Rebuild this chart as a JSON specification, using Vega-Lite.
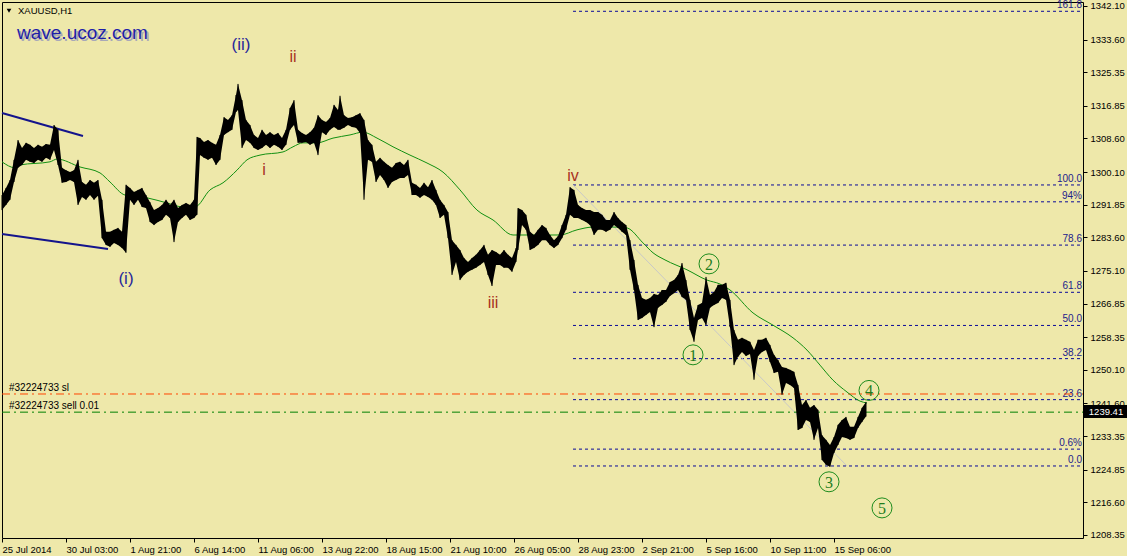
{
"$schema": "https://vega.github.io/schema/vega-lite/v6.json",
"width": 1081, "height": 536,
"autosize": {"type": "none"},
"padding": {"left": 2, "top": 2, "right": 44, "bottom": 18},
"background": "#EEE8AA",
"config": {"view": {"stroke": "#000000", "strokeWidth": 1}, "font": "Liberation Sans", "axis": {"labelOverlap": false, "labelSeparation": 0}},
"datasets": {
"px": [
{"x":0,"y":1294.3,"y2":1290.5},{"x":4,"y":1296.1,"y2":1291.8},{"x":8,"y":1298.1,"y2":1293.1},{"x":12,"y":1303.2,"y2":1297.6},{"x":16,"y":1308.2,"y2":1301.2},{"x":20,"y":1306.2,"y2":1301.9},{"x":24,"y":1307.5,"y2":1303.2},{"x":28,"y":1307.0,"y2":1302.7},{"x":32,"y":1306.2,"y2":1302.4},{"x":36,"y":1307.0,"y2":1303.2},{"x":40,"y":1306.5,"y2":1302.7},{"x":44,"y":1307.2,"y2":1303.7},{"x":48,"y":1307.0,"y2":1303.2},{"x":52,"y":1312.0,"y2":1305.7},{"x":56,"y":1310.8,"y2":1301.9},{"x":60,"y":1301.2,"y2":1297.4},{"x":64,"y":1300.6,"y2":1297.6},{"x":68,"y":1300.1,"y2":1298.1},{"x":72,"y":1300.6,"y2":1297.6},{"x":76,"y":1303.2,"y2":1291.8},{"x":80,"y":1297.6,"y2":1293.8},{"x":84,"y":1296.9,"y2":1293.1},{"x":88,"y":1298.1,"y2":1294.3},{"x":92,"y":1297.4,"y2":1293.1},{"x":96,"y":1298.1,"y2":1294.1},{"x":100,"y":1293.1,"y2":1283.4},{"x":104,"y":1285.0,"y2":1281.7},{"x":108,"y":1285.0,"y2":1281.2},{"x":112,"y":1285.5,"y2":1282.2},{"x":116,"y":1286.0,"y2":1281.7},{"x":120,"y":1285.0,"y2":1280.9},{"x":124,"y":1296.9,"y2":1279.7},{"x":128,"y":1296.1,"y2":1293.1},{"x":132,"y":1295.1,"y2":1291.8},{"x":136,"y":1295.6,"y2":1293.1},{"x":140,"y":1296.1,"y2":1291.3},{"x":144,"y":1294.3,"y2":1291.0},{"x":148,"y":1292.5,"y2":1287.5},{"x":152,"y":1290.5,"y2":1286.7},{"x":156,"y":1291.0,"y2":1287.5},{"x":160,"y":1291.8,"y2":1288.0},{"x":164,"y":1293.1,"y2":1289.3},{"x":168,"y":1291.8,"y2":1288.5},{"x":172,"y":1293.1,"y2":1282.4},{"x":176,"y":1291.0,"y2":1287.5},{"x":180,"y":1291.8,"y2":1288.5},{"x":184,"y":1292.3,"y2":1289.3},{"x":188,"y":1291.8,"y2":1288.0},{"x":192,"y":1293.1,"y2":1288.5},{"x":195,"y":1309.0,"y2":1289.3},{"x":198,"y":1308.7,"y2":1304.4},{"x":202,"y":1307.7,"y2":1303.7},{"x":206,"y":1308.2,"y2":1303.2},{"x":210,"y":1307.5,"y2":1303.7},{"x":214,"y":1307.0,"y2":1301.9},{"x":218,"y":1309.5,"y2":1303.2},{"x":222,"y":1314.0,"y2":1309.5},{"x":226,"y":1313.3,"y2":1310.2},{"x":230,"y":1314.5,"y2":1310.8},{"x":234,"y":1319.6,"y2":1315.3},{"x":236,"y":1322.4,"y2":1315.8},{"x":240,"y":1318.3,"y2":1306.2},{"x":244,"y":1313.3,"y2":1308.2},{"x":248,"y":1312.0,"y2":1307.5},{"x":252,"y":1309.5,"y2":1306.2},{"x":256,"y":1308.7,"y2":1305.7},{"x":260,"y":1310.8,"y2":1306.2},{"x":264,"y":1309.5,"y2":1307.0},{"x":268,"y":1310.2,"y2":1306.2},{"x":272,"y":1309.5,"y2":1307.0},{"x":276,"y":1310.0,"y2":1306.5},{"x":280,"y":1308.7,"y2":1305.7},{"x":284,"y":1310.8,"y2":1307.0},{"x":288,"y":1316.3,"y2":1310.8},{"x":292,"y":1318.3,"y2":1312.0},{"x":296,"y":1310.8,"y2":1307.5},{"x":300,"y":1310.0,"y2":1307.5},{"x":304,"y":1309.5,"y2":1307.7},{"x":308,"y":1310.2,"y2":1307.0},{"x":312,"y":1311.3,"y2":1307.5},{"x":316,"y":1314.5,"y2":1304.4},{"x":320,"y":1313.3,"y2":1310.2},{"x":324,"y":1312.8,"y2":1309.5},{"x":328,"y":1313.8,"y2":1310.8},{"x":332,"y":1317.1,"y2":1311.5},{"x":336,"y":1315.8,"y2":1310.8},{"x":338,"y":1319.4,"y2":1310.8},{"x":342,"y":1314.5,"y2":1311.3},{"x":346,"y":1313.8,"y2":1312.0},{"x":350,"y":1314.0,"y2":1311.5},{"x":354,"y":1314.5,"y2":1311.3},{"x":358,"y":1315.0,"y2":1310.0},{"x":362,"y":1313.3,"y2":1293.1},{"x":366,"y":1308.2,"y2":1303.2},{"x":370,"y":1307.0,"y2":1302.7},{"x":374,"y":1302.7,"y2":1297.6},{"x":378,"y":1303.7,"y2":1299.4},{"x":382,"y":1302.7,"y2":1298.1},{"x":386,"y":1301.9,"y2":1296.1},{"x":390,"y":1301.2,"y2":1297.6},{"x":394,"y":1302.4,"y2":1298.1},{"x":398,"y":1302.7,"y2":1298.6},{"x":402,"y":1301.9,"y2":1298.6},{"x":406,"y":1303.2,"y2":1299.4},{"x":410,"y":1297.4,"y2":1294.3},{"x":414,"y":1296.9,"y2":1294.3},{"x":418,"y":1296.1,"y2":1293.6},{"x":422,"y":1297.4,"y2":1294.3},{"x":426,"y":1296.3,"y2":1293.8},{"x":430,"y":1298.1,"y2":1293.1},{"x":434,"y":1295.6,"y2":1291.8},{"x":438,"y":1293.1,"y2":1288.5},{"x":442,"y":1291.8,"y2":1289.3},{"x":446,"y":1290.0,"y2":1283.4},{"x":450,"y":1282.9,"y2":1274.1},{"x":454,"y":1281.7,"y2":1277.4},{"x":458,"y":1280.4,"y2":1272.8},{"x":462,"y":1278.4,"y2":1274.1},{"x":466,"y":1277.4,"y2":1274.9},{"x":470,"y":1278.4,"y2":1275.4},{"x":474,"y":1279.2,"y2":1275.9},{"x":478,"y":1280.4,"y2":1276.6},{"x":482,"y":1281.7,"y2":1277.4},{"x":486,"y":1279.2,"y2":1274.1},{"x":490,"y":1280.4,"y2":1271.3},{"x":494,"y":1279.9,"y2":1276.6},{"x":498,"y":1279.2,"y2":1276.6},{"x":502,"y":1280.4,"y2":1275.9},{"x":506,"y":1279.2,"y2":1275.9},{"x":510,"y":1278.4,"y2":1274.9},{"x":514,"y":1280.9,"y2":1277.4},{"x":516,"y":1291.0,"y2":1280.4},{"x":520,"y":1290.5,"y2":1286.7},{"x":524,"y":1289.3,"y2":1285.5},{"x":528,"y":1285.0,"y2":1280.4},{"x":532,"y":1284.2,"y2":1280.9},{"x":536,"y":1285.5,"y2":1281.7},{"x":540,"y":1286.7,"y2":1282.9},{"x":544,"y":1286.0,"y2":1282.9},{"x":548,"y":1284.2,"y2":1281.7},{"x":552,"y":1282.9,"y2":1280.9},{"x":556,"y":1283.9,"y2":1281.7},{"x":560,"y":1286.7,"y2":1283.4},{"x":564,"y":1289.3,"y2":1285.5},{"x":568,"y":1296.3,"y2":1289.3},{"x":572,"y":1295.6,"y2":1288.5},{"x":576,"y":1291.8,"y2":1288.5},{"x":580,"y":1291.0,"y2":1288.0},{"x":584,"y":1290.5,"y2":1287.5},{"x":588,"y":1290.5,"y2":1286.7},{"x":592,"y":1290.0,"y2":1284.2},{"x":596,"y":1290.0,"y2":1285.5},{"x":600,"y":1289.3,"y2":1285.5},{"x":604,"y":1288.0,"y2":1285.0},{"x":608,"y":1288.0,"y2":1285.5},{"x":612,"y":1290.0,"y2":1286.7},{"x":616,"y":1288.5,"y2":1286.0},{"x":620,"y":1287.5,"y2":1285.0},{"x":624,"y":1286.7,"y2":1284.2},{"x":628,"y":1282.9,"y2":1275.4},{"x":632,"y":1277.9,"y2":1270.3},{"x":636,"y":1271.6,"y2":1262.7},{"x":640,"y":1268.3,"y2":1263.2},{"x":644,"y":1267.8,"y2":1264.0},{"x":648,"y":1268.3,"y2":1264.7},{"x":652,"y":1269.3,"y2":1260.9},{"x":656,"y":1269.0,"y2":1265.8},{"x":660,"y":1270.3,"y2":1266.5},{"x":664,"y":1270.3,"y2":1267.3},{"x":668,"y":1272.3,"y2":1268.8},{"x":672,"y":1272.8,"y2":1269.5},{"x":676,"y":1274.1,"y2":1270.3},{"x":680,"y":1277.1,"y2":1268.5},{"x":684,"y":1272.8,"y2":1267.8},{"x":688,"y":1267.8,"y2":1260.2},{"x":692,"y":1263.2,"y2":1257.2},{"x":696,"y":1266.5,"y2":1262.7},{"x":700,"y":1267.0,"y2":1263.2},{"x":704,"y":1273.6,"y2":1261.4},{"x":708,"y":1269.0,"y2":1265.8},{"x":712,"y":1269.8,"y2":1266.5},{"x":716,"y":1271.6,"y2":1267.0},{"x":720,"y":1271.6,"y2":1268.3},{"x":724,"y":1272.1,"y2":1267.8},{"x":728,"y":1267.8,"y2":1260.9},{"x":732,"y":1260.2,"y2":1251.3},{"x":736,"y":1257.7,"y2":1253.4},{"x":740,"y":1258.2,"y2":1254.6},{"x":744,"y":1257.7,"y2":1253.6},{"x":748,"y":1257.2,"y2":1254.1},{"x":752,"y":1255.1,"y2":1247.6},{"x":756,"y":1257.7,"y2":1253.6},{"x":760,"y":1257.7,"y2":1254.6},{"x":764,"y":1258.2,"y2":1255.1},{"x":768,"y":1256.4,"y2":1252.1},{"x":772,"y":1253.9,"y2":1249.3},{"x":776,"y":1252.6,"y2":1249.6},{"x":780,"y":1250.8,"y2":1243.8},{"x":784,"y":1250.6,"y2":1246.8},{"x":788,"y":1250.1,"y2":1246.3},{"x":792,"y":1249.6,"y2":1245.5},{"x":796,"y":1246.3,"y2":1234.9},{"x":800,"y":1241.2,"y2":1235.4},{"x":804,"y":1242.5,"y2":1237.4},{"x":808,"y":1240.5,"y2":1236.9},{"x":812,"y":1241.2,"y2":1232.4},{"x":816,"y":1240.0,"y2":1235.4},{"x":820,"y":1233.6,"y2":1227.3},{"x":824,"y":1232.4,"y2":1226.1},{"x":828,"y":1231.1,"y2":1225.6},{"x":832,"y":1233.1,"y2":1229.1},{"x":836,"y":1236.2,"y2":1231.1},{"x":840,"y":1237.4,"y2":1233.1},{"x":844,"y":1238.2,"y2":1232.9},{"x":848,"y":1235.7,"y2":1232.4},{"x":852,"y":1235.7,"y2":1232.9},{"x":856,"y":1238.2,"y2":1235.4},{"x":860,"y":1240.5,"y2":1236.9},{"x":864,"y":1242.0,"y2":1238.3}
],
"ma": [
{"x":0,"y":1302.7},{"x":13,"y":1301.2},{"x":18,"y":1301.9},{"x":48,"y":1302.7},{"x":55,"y":1303.4},{"x":78,"y":1301.4},{"x":98,"y":1299.9},{"x":108,"y":1297.6},{"x":123,"y":1294.3},{"x":145,"y":1293.6},{"x":165,"y":1292.3},{"x":181,"y":1291.3},{"x":193,"y":1291.3},{"x":208,"y":1295.6},{"x":221,"y":1297.4},{"x":235,"y":1300.6},{"x":245,"y":1303.2},{"x":258,"y":1304.4},{"x":281,"y":1305.2},{"x":291,"y":1306.5},{"x":301,"y":1307.5},{"x":315,"y":1307.5},{"x":331,"y":1308.7},{"x":348,"y":1309.5},{"x":361,"y":1310.2},{"x":375,"y":1308.7},{"x":391,"y":1306.5},{"x":408,"y":1304.4},{"x":425,"y":1302.4},{"x":441,"y":1300.1},{"x":458,"y":1295.6},{"x":475,"y":1290.5},{"x":491,"y":1288.0},{"x":511,"y":1284.2},{"x":525,"y":1284.2},{"x":558,"y":1284.2},{"x":575,"y":1285.5},{"x":591,"y":1286.2},{"x":618,"y":1286.2},{"x":625,"y":1286.0},{"x":641,"y":1282.2},{"x":651,"y":1279.7},{"x":663,"y":1277.9},{"x":685,"y":1275.4},{"x":705,"y":1272.8},{"x":718,"y":1271.8},{"x":728,"y":1270.3},{"x":751,"y":1264.5},{"x":771,"y":1261.4},{"x":791,"y":1258.2},{"x":805,"y":1255.1},{"x":818,"y":1251.3},{"x":831,"y":1247.5},{"x":845,"y":1244.5},{"x":858,"y":1242.2},{"x":865,"y":1241.7}
],
"fib": [
{"x":571,"x2":1081,"y":1340.76},{"x":571,"x2":1081,"y":1296.85},{"x":571,"x2":1081,"y":1292.59},{"x":571,"x2":1081,"y":1281.65},{"x":571,"x2":1081,"y":1269.71},{"x":571,"x2":1081,"y":1261.33},{"x":571,"x2":1081,"y":1252.94},{"x":571,"x2":1081,"y":1242.57},{"x":571,"x2":1081,"y":1230.06},{"x":571,"x2":1081,"y":1225.80}
],
"fibl": [
{"x":1080,"y":1340.76,"t":"161.8"},{"x":1080,"y":1296.85,"t":"100.0"},{"x":1080,"y":1292.59,"t":"94%"},{"x":1080,"y":1281.65,"t":"78.6"},{"x":1080,"y":1269.71,"t":"61.8"},{"x":1080,"y":1261.33,"t":"50.0"},{"x":1080,"y":1252.94,"t":"38.2"},{"x":1080,"y":1242.57,"t":"23.6"},{"x":1080,"y":1230.06,"t":"0.6%"},{"x":1080,"y":1225.80,"t":"0.0"}
],
"chan": [
{"x":0,"y":1315.05,"x2":81,"y2":1309.23},{"x":0,"y":1284.46,"x2":106,"y2":1280.66}
],
"circ": [
{"x":691,"y":1253.9,"t":"1"},{"x":707,"y":1276.9,"t":"2"},{"x":827,"y":1221.8,"t":"3"},{"x":867,"y":1244.9,"t":"4"},{"x":880,"y":1215.2,"t":"5"}
]
},
"encoding": {
 "x": {"field": "x", "type": "quantitative", "scale": {"domain": [0, 1081], "nice": false, "zero": false},
  "axis": {"orient": "bottom", "values": [0,64,128,192,256,320,384,448,512,576,640,704,768,832],
   "labelExpr": "['25 Jul 2014','30 Jul 03:00','1 Aug 21:00','6 Aug 14:00','11 Aug 06:00','13 Aug 22:00','18 Aug 15:00','21 Aug 10:00','26 Aug 05:00','28 Aug 23:00','2 Sep 21:00','5 Sep 16:00','10 Sep 11:00','15 Sep 06:00'][round(datum.value/64)]",
   "title": null, "domain": false, "grid": false, "tickSize": 4, "tickColor": "#000000", "labelColor": "#000000",
   "labelAlign": "left", "labelBaseline": "top", "labelPadding": 2, "labelFontSize": 9.5, "labelFont": "Liberation Sans", "labelOverlap": false, "labelFlush": false, "labelBound": false}},
 "y": {"field": "y", "type": "quantitative", "scale": {"domain": [1207.59, 1343.11], "nice": false, "zero": false},
  "axis": {"orient": "right", "values": [1342.10,1333.60,1325.35,1316.85,1308.60,1300.10,1291.85,1283.60,1275.10,1266.85,1258.35,1250.10,1241.60,1233.35,1224.85,1216.60,1208.35],
   "format": ".2f", "title": null, "domain": false, "grid": false, "tickSize": 4, "tickColor": "#000000", "labelColor": "#000000",
   "labelPadding": 3, "labelFontSize": 9.5, "labelFont": "Liberation Sans", "labelOverlap": false, "labelBound": false, "labelFlush": false, "labelSeparation": 0}}
},
"layer": [
{"data": {"name": "fib"},
 "mark": {"type": "rule", "color": "#0A0A9A", "strokeDash": [3, 3], "strokeWidth": 1},
 "encoding": {"x2": {"field": "x2"}}},
{"data": {"name": "fibl"},
 "mark": {"type": "text", "align": "right", "baseline": "bottom", "dy": -1, "fontSize": 10, "color": "#22228C"},
 "encoding": {"text": {"field": "t"}}},
{"data": {"values": [{"x": 571, "y": 1296.85, "x2": 845, "y2": 1225.8}]},
 "mark": {"type": "rule", "color": "#C8C8C8", "strokeWidth": 1},
 "encoding": {"x2": {"field": "x2"}, "y2": {"field": "y2"}}},
{"data": {"values": [{"x": 0, "x2": 1081, "y": 1244.0}]},
 "mark": {"type": "rule", "color": "#FF4500", "strokeDash": [8, 4, 2, 4], "strokeWidth": 1},
 "encoding": {"x2": {"field": "x2"}}},
{"data": {"values": [{"x": 0, "x2": 1081, "y": 1239.41}]},
 "mark": {"type": "rule", "color": "#008000", "strokeDash": [8, 4, 2, 4], "strokeWidth": 1},
 "encoding": {"x2": {"field": "x2"}}},
{"data": {"values": [{"x": 7, "y": 1244.0, "t": "#32224733 sl"}, {"x": 7, "y": 1239.41, "t": "#32224733 sell 0.01"}]},
 "mark": {"type": "text", "align": "left", "baseline": "bottom", "dy": -1, "fontSize": 10, "color": "#000000"},
 "encoding": {"text": {"field": "t"}}},
{"data": {"name": "chan"},
 "mark": {"type": "rule", "color": "#14148C", "strokeWidth": 2},
 "encoding": {"x2": {"field": "x2"}, "y2": {"field": "y2"}}},
{"data": {"name": "ma"},
 "mark": {"type": "line", "color": "#129012", "strokeWidth": 1, "interpolate": "monotone"}},
{"data": {"name": "px"},
 "mark": {"type": "area", "color": "#000000", "opacity": 1},
 "encoding": {"y2": {"field": "y2"}}},
{"data": {"name": "px"},
 "mark": {"type": "rule", "color": "#000000", "strokeWidth": 1},
 "encoding": {"y2": {"field": "y2"}}},
{"data": {"values": [{"x": 124, "y": 1273.1, "t": "(i)"}, {"x": 239, "y": 1332.2, "t": "(ii)"}]},
 "mark": {"type": "text", "align": "center", "baseline": "middle", "fontSize": 17, "color": "#26269A"},
 "encoding": {"text": {"field": "t"}}},
{"data": {"values": [{"x": 262, "y": 1300.6, "t": "i"}, {"x": 291, "y": 1329.2, "t": "ii"}, {"x": 491, "y": 1267.0, "t": "iii"}, {"x": 571, "y": 1299.1, "t": "iv"}]},
 "mark": {"type": "text", "align": "center", "baseline": "middle", "fontSize": 16, "color": "#A8321E"},
 "encoding": {"text": {"field": "t"}}},
{"data": {"name": "circ"},
 "mark": {"type": "point", "shape": "circle", "size": 400, "filled": false, "color": "#1E8C1E", "strokeWidth": 1, "opacity": 1}},
{"data": {"name": "circ"},
 "mark": {"type": "text", "align": "center", "baseline": "middle", "dy": 1, "font": "Liberation Serif", "fontSize": 16, "color": "#1E7C1E"},
 "encoding": {"text": {"field": "t"}}},
{"data": {"values": [{"x": 15, "y": 1335.3, "t": "wave.ucoz.com"}]},
 "mark": {"type": "text", "align": "left", "baseline": "middle", "dx": 2, "dy": 2, "fontSize": 19, "color": "#A8A8B8"},
 "encoding": {"text": {"field": "t"}}},
{"data": {"values": [{"x": 15, "y": 1335.3, "t": "wave.ucoz.com"}]},
 "mark": {"type": "text", "align": "left", "baseline": "middle", "fontSize": 19, "color": "#1E1EA8"},
 "encoding": {"text": {"field": "t"}}},
{"data": {"values": [{"x": 16, "y": 1340.8, "t": "XAUUSD,H1"}]},
 "mark": {"type": "text", "align": "left", "baseline": "middle", "fontSize": 9.5, "color": "#000000"},
 "encoding": {"text": {"field": "t"}}},
{"data": {"values": [{"x": 7, "y": 1340.9}]},
 "mark": {"type": "point", "shape": "triangle-down", "size": 22, "filled": true, "color": "#000000", "opacity": 1}},
{"data": {"values": [{"x": 1082, "x2": 1125, "y": 1237.9, "y2": 1241.2}]},
 "mark": {"type": "rect", "color": "#000000", "opacity": 1},
 "encoding": {"x2": {"field": "x2"}, "y2": {"field": "y2"}}},
{"data": {"values": [{"x": 1104, "y": 1239.41, "t": "1239.41"}]},
 "mark": {"type": "text", "align": "center", "baseline": "middle", "fontSize": 9.5, "color": "#FFFFFF"},
 "encoding": {"text": {"field": "t"}}}
]
}
